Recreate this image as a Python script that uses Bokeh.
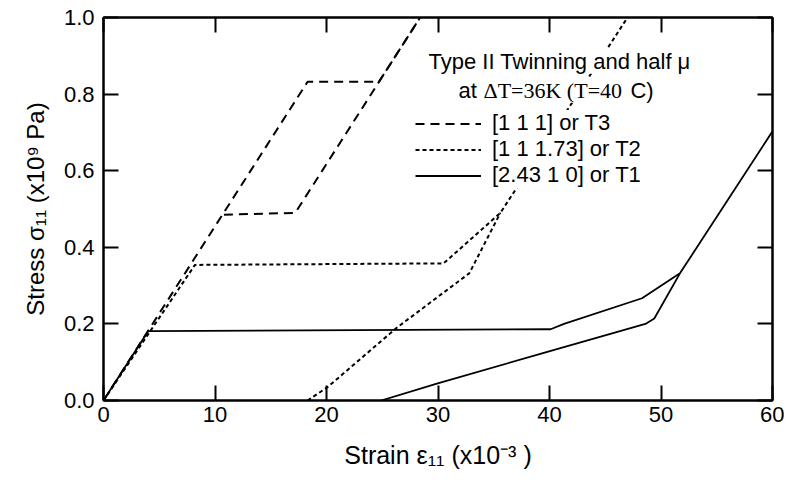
from bokeh.plotting import figure
from bokeh.models import (Range1d, FixedTicker, PrintfTickFormatter, LinearAxis,
                          Legend, LegendItem, Label)
from bokeh.embed import file_html
from bokeh.resources import INLINE

# ---- data (strain x1e-3, stress x1e9 Pa) ----
t3_load_x = [0, 18.3, 24.7, 28.4]
t3_load_y = [0, 0.832, 0.832, 1.0]
t3_branch_x = [10.8, 17.2, 28.4]
t3_branch_y = [0.485, 0.49, 1.0]

t2_load_x = [0, 8.2, 30.5, 35.6, 47.0]
t2_load_y = [0, 0.354, 0.358, 0.49, 1.0]
t2_branch_x = [18.3, 20.1, 26.3, 32.8, 35.6]
t2_branch_y = [0, 0.035, 0.19, 0.332, 0.49]

t1_load_x = [0, 4.0, 40.1, 41.3, 48.3, 51.7, 60]
t1_load_y = [0, 0.181, 0.186, 0.2, 0.267, 0.332, 0.703]
t1_branch_x = [24.9, 29.9, 39.8, 48.6, 49.4, 51.7]
t1_branch_y = [0, 0.044, 0.127, 0.2, 0.214, 0.332]

x_ticks = [0, 10, 20, 30, 40, 50, 60]
y_ticks = [0.0, 0.2, 0.4, 0.6, 0.8, 1.0]

legend_labels = ["[1 1 1] or T3", "[1 1 1.73] or T2", "[2.43 1 0] or T1"]
x_title = "Strain ε₁₁ (x10⁻³ )"
y_title = "Stress σ₁₁ (x10⁹ Pa)"

SANS = "Liberation Sans"
SERIF = "Liberation Serif"

p = figure(width=784, height=478, output_backend="svg", toolbar_location=None,
           x_range=Range1d(0, 60), y_range=Range1d(0, 1.0),
           min_border_left=103, min_border_right=12, min_border_top=17,
           min_border_bottom=78)
p.grid.visible = False
p.outline_line_color = "black"
p.outline_line_width = 2
p.background_fill_color = "white"
p.border_fill_color = "white"

xax = p.below[0]
yax = p.left[0]

def style_axis(ax, labels=True):
    ax.axis_line_width = 2
    ax.axis_line_color = "black"
    ax.major_tick_in = 15
    ax.major_tick_out = 0
    ax.major_tick_line_width = 2
    ax.minor_tick_line_color = None
    if labels:
        ax.major_label_text_font = SANS
        ax.major_label_text_font_size = "22px"
        ax.major_label_text_color = "black"
    else:
        ax.major_label_text_font_size = "0px"
        ax.major_label_text_color = None
        ax.major_label_standoff = 0

xax.ticker = FixedTicker(ticks=x_ticks)
yax.ticker = FixedTicker(ticks=y_ticks)
yax.formatter = PrintfTickFormatter(format="%.1f")
style_axis(xax)
style_axis(yax)
xax.major_label_standoff = 6
yax.major_label_standoff = 9

top = LinearAxis(ticker=FixedTicker(ticks=x_ticks))
right = LinearAxis(ticker=FixedTicker(ticks=y_ticks))
style_axis(top, labels=False)
style_axis(right, labels=False)
p.add_layout(top, "above")
p.add_layout(right, "right")

xax.axis_label = x_title
yax.axis_label = y_title
for ax in (xax, yax):
    ax.axis_label_text_font = SANS
    ax.axis_label_text_font_style = "normal"
    ax.axis_label_text_color = "black"
xax.axis_label_text_font_size = "25px"
yax.axis_label_text_font_size = "24px"
xax.axis_label_standoff = 16
yax.axis_label_standoff = 12

lw = 1.8
r1a = p.line(t1_load_x, t1_load_y, line_color="black", line_width=lw)
r1b = p.line(t1_branch_x, t1_branch_y, line_color="black", line_width=lw)
r2a = p.line(t2_load_x, t2_load_y, line_color="black", line_width=2, line_dash="4 3")
r2b = p.line(t2_branch_x, t2_branch_y, line_color="black", line_width=2, line_dash="4 3")
r3a = p.line(t3_load_x, t3_load_y, line_color="black", line_width=2, line_dash="9 6")
r3b = p.line(t3_branch_x, t3_branch_y, line_color="black", line_width=2, line_dash="9 6")

legend = Legend(items=[LegendItem(label=legend_labels[0], renderers=[r3a]),
                       LegendItem(label=legend_labels[1], renderers=[r2a]),
                       LegendItem(label=legend_labels[2], renderers=[r1a])],
                location=(312, 212), glyph_width=66, glyph_height=25,
                label_height=25, label_standoff=11, spacing=0, padding=0,
                margin=0, border_line_color=None, background_fill_color="white",
                background_fill_alpha=1.0, label_text_font=SANS,
                label_text_font_size="22px", label_text_color="black")
p.add_layout(legend)

def lab(x, y, text, font=SANS):
    l = Label(x=x, y=y, text=text, text_font=font, text_font_size="22px",
              text_color="black", text_align="left", text_baseline="middle",
              background_fill_color="white", background_fill_alpha=1.0)
    p.add_layout(l)

lab(29.15, 0.886, "Type II Twinning and half μ")
lab(31.84, 0.81, "at")
lab(34.08, 0.81, "ΔT=36K (T=40", SERIF)
lab(47.26, 0.81, "C)")

open("out.html", "w").write(file_html(p, INLINE))
